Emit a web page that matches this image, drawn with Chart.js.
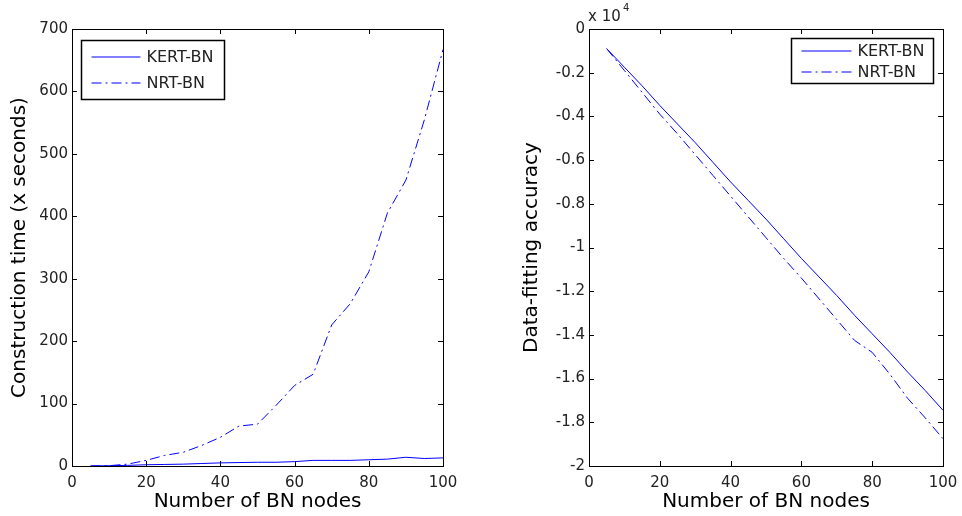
<!DOCTYPE html>
<html>
<head>
<meta charset="utf-8">
<script src="https://cdn.jsdelivr.net/npm/chart.js@4.4.1/dist/chart.umd.min.js"></script>
<style>
  html, body { margin: 0; padding: 0; background: #fff; }
  #wrap { position: relative; width: 962px; height: 516px; }
  canvas { position: absolute; top: 0; }
</style>
</head>
<body>
<div id="wrap">
  <canvas id="timeChart" width="481" height="516" style="left:0"></canvas>
  <canvas id="accChart" width="481" height="516" style="left:481px"></canvas>
</div>
<script>
// number of BN nodes (shared x values)
const nodes = [5, 10, 15, 20, 25, 30, 35, 40, 45, 50, 55, 60, 65, 70, 75, 80, 85, 90, 95, 100];

// left plot: construction time (x seconds)
const kertTime = [0, 0.5, 1, 2, 2.5, 3, 4, 5, 5.5, 6, 6, 7, 9, 9, 9, 10, 11, 14, 12, 13];
const nrtTime = [0, 0.5, 3, 9, 17, 22, 33, 46, 64, 67, 97, 129, 147, 226, 260, 311, 405, 458, 555, 667];

// right plot: data-fitting accuracy (x 10^4)
const kertAcc = [-0.09, -0.175, -0.26, -0.35, -0.435, -0.52, -0.61, -0.70, -0.785, -0.87,
                 -0.96, -1.05, -1.135, -1.22, -1.31, -1.395, -1.48, -1.57, -1.655, -1.745];
const nrtAcc = [-0.09, -0.19, -0.29, -0.39, -0.48, -0.575, -0.67, -0.765, -0.86, -0.955,
                -1.05, -1.14, -1.235, -1.33, -1.425, -1.48, -1.58, -1.69, -1.78, -1.875];

const seriesNames = ['KERT-BN', 'NRT-BN'];

const FONT = 'DejaVu Sans';
const BLUE = '#0000ff';
const TEXT = '#222';

function pts(ys) {
  return nodes.map((x, i) => ({ x: x, y: ys[i] }));
}

// box around the axes, matlab-style inward ticks, and a boxed legend
const matlabFrame = {
  id: 'matlabFrame',
  afterDraw(chart, args, opts) {
    const ctx = chart.ctx;
    const a = chart.chartArea;
    ctx.save();
    ctx.strokeStyle = '#000';
    ctx.lineWidth = 1;
    ctx.strokeRect(a.left + 0.5, a.top + 0.5, a.right - a.left, a.bottom - a.top);

    const tl = 5;
    ctx.beginPath();
    chart.scales.x.ticks.forEach(t => {
      const px = Math.round(chart.scales.x.getPixelForValue(t.value)) + 0.5;
      ctx.moveTo(px, a.bottom); ctx.lineTo(px, a.bottom - tl);
      ctx.moveTo(px, a.top); ctx.lineTo(px, a.top + tl);
    });
    chart.scales.y.ticks.forEach(t => {
      const py = Math.round(chart.scales.y.getPixelForValue(t.value)) + 0.5;
      ctx.moveTo(a.left, py); ctx.lineTo(a.left + tl, py);
      ctx.moveTo(a.right, py); ctx.lineTo(a.right - tl, py);
    });
    ctx.stroke();

    // legend
    const L = opts.legend;
    ctx.fillStyle = '#fff';
    ctx.fillRect(L.x, L.y, L.w, L.h);
    ctx.lineWidth = 1.5;
    ctx.strokeRect(L.x, L.y, L.w, L.h);
    ctx.font = '16px "' + FONT + '"';
    ctx.textBaseline = 'middle';
    chart.data.datasets.forEach((ds, i) => {
      const ry = L.y + L.row0 + i * L.rowGap;
      ctx.strokeStyle = ds.borderColor;
      ctx.lineWidth = 1;
      ctx.setLineDash(ds.borderDash || []);
      ctx.beginPath();
      ctx.moveTo(L.x + 10, ry + 0.5);
      ctx.lineTo(L.x + 10 + L.sample, ry + 0.5);
      ctx.stroke();
      ctx.setLineDash([]);
      ctx.fillStyle = TEXT;
      ctx.fillText(ds.label, L.x + 16 + L.sample, ry + 1);
    });

    if (opts.exponent) {
      ctx.fillStyle = TEXT;
      ctx.font = '15px "' + FONT + '"';
      ctx.textBaseline = 'alphabetic';
      ctx.fillText('x 10', a.left - 1, a.top - 8);
      ctx.font = '10px "' + FONT + '"';
      ctx.fillText('4', a.left + 34, a.top - 18);
    }
    ctx.restore();
  }
};

function makeChart(id, ys1, ys2, cfg) {
  return new Chart(document.getElementById(id), {
    type: 'line',
    data: {
      datasets: [{
        label: seriesNames[0],
        data: pts(ys1),
        borderColor: BLUE,
        borderWidth: 1,
        pointRadius: 0,
        tension: 0
      }, {
        label: seriesNames[1],
        data: pts(ys2),
        borderColor: BLUE,
        borderWidth: 1,
        borderDash: [10, 4, 2, 4],
        pointRadius: 0,
        tension: 0
      }]
    },
    options: {
      responsive: false,
      animation: false,
      layout: { padding: { top: 29, right: cfg.padRight, left: 0, bottom: 0 } },
      plugins: {
        legend: { display: false },
        tooltip: { enabled: false },
        matlabFrame: { legend: cfg.legend, exponent: cfg.exponent }
      },
      scales: {
        x: {
          type: 'linear',
          min: 0, max: 100,
          border: { display: false },
          grid: { display: false, drawTicks: false },
          ticks: { stepSize: 20, padding: 8, color: TEXT, font: { family: FONT, size: 15 }, maxRotation: 0 },
          title: { display: true, text: 'Number of BN nodes', color: '#000',
                   font: { family: FONT, size: 20 }, padding: { top: 0, bottom: 2 } },
          afterFit: s => { s.height = 50; s.paddingLeft = 0; s.paddingRight = 0; }
        },
        y: {
          min: cfg.yMin, max: cfg.yMax,
          border: { display: false },
          grid: { display: false, drawTicks: false },
          ticks: { stepSize: cfg.yStep, padding: 4, color: TEXT, font: { family: FONT, size: 15 },
                   callback: v => String(parseFloat(v.toFixed(1))) },
          title: { display: true, text: cfg.yTitle, color: '#000',
                   font: { family: FONT, size: 20 }, padding: { top: cfg.titlePad, bottom: 0 } },
          afterFit: s => { s.width = cfg.yWidth; s.paddingTop = 0; s.paddingBottom = 0; }
        }
      }
    },
    plugins: [matlabFrame]
  });
}

makeChart('timeChart', kertTime, nrtTime, {
  yMin: 0, yMax: 700, yStep: 100,
  yTitle: 'Construction time (x seconds)',
  yWidth: 72, padRight: 38, titlePad: 8,
  legend: { x: 81.5, y: 40.5, w: 143, h: 59, row0: 16, rowGap: 26, sample: 49 }
});

makeChart('accChart', kertAcc, nrtAcc, {
  yMin: -2, yMax: 0, yStep: 0.2,
  yTitle: 'Data-fitting accuracy',
  yWidth: 108, padRight: 19, titlePad: 39, exponent: true,
  legend: { x: 310.5, y: 38.5, w: 142, h: 45, row0: 12, rowGap: 21, sample: 50 }
});
</script>
</body>
</html>
